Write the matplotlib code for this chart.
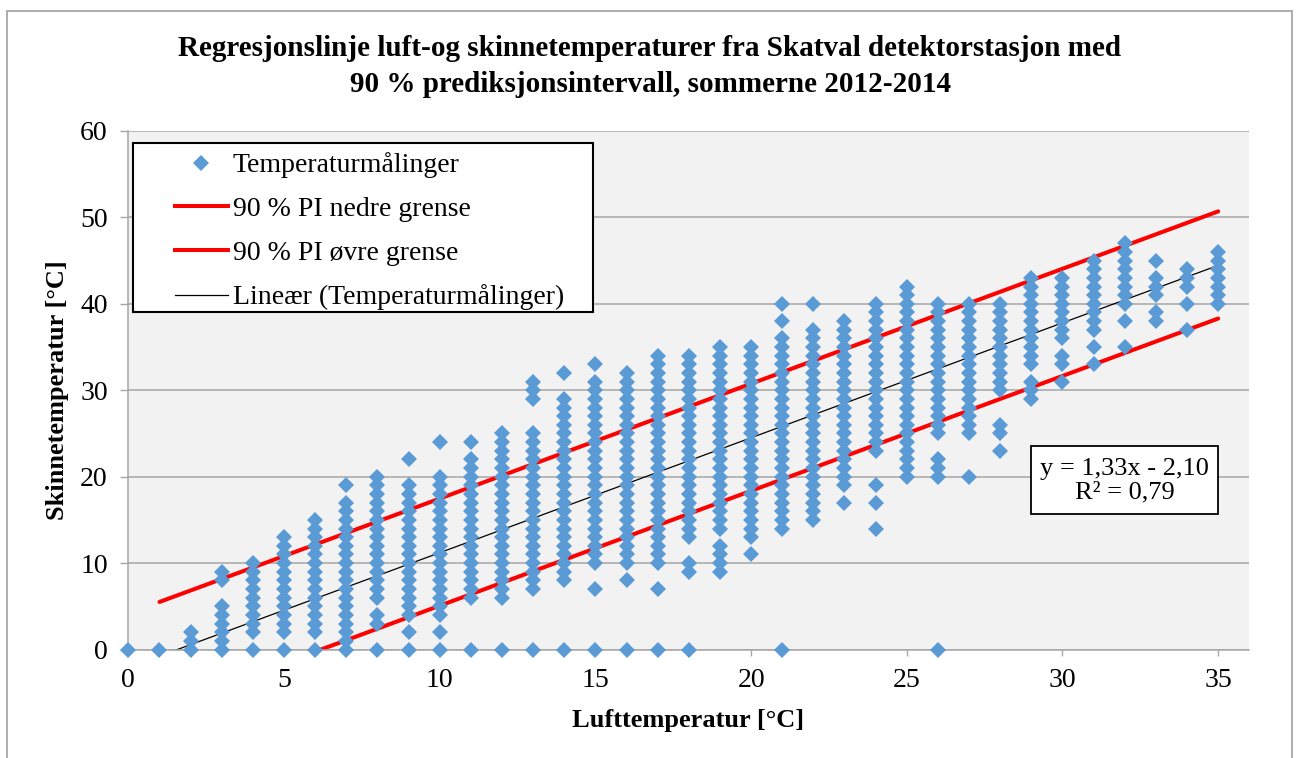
import matplotlib
matplotlib.use('Agg')
import matplotlib.pyplot as plt
from matplotlib.lines import Line2D
from matplotlib.patches import Rectangle

# Lufttemperatur (x) og skinnetemperaturer (y) lest av figuren,
# en streng per x-verdi: enkeltverdier og sammenhengende omraader "a-b"
lufttemp = list(range(0, 36))
skinnetemp_kolonner = [
    "0", "0", "0-2", "0-5 8 9", "0 2-10", "0 2-13", "0 2-15", "0 1-17 19",
    "0 3 4 6-20", "0 2 4-19 22", "0 2 4-20 24", "0 6-22 24", "0 6-25",
    "0 7-25 29-31", "0 8-29 32", "0 7 10-31 33", "0 8 10-32", "0 7 10-34",
    "0 9-10 13-34", "9-12 14-35", "11 13-35", "0 14-36 38 40", "15-37 40",
    "17 19-38", "14 17 19 23-40", "20-42", "0 20-22 25-40", "20 25-40",
    "23 25 26 30-40", "29-31 33-43", "31 33 34 36-43", "33 35 37-45",
    "35 38 40-47", "38 39 41-43 45", "37 40 42-44", "40-46",
]

# regresjonslinje (fra likningen i figuren) og 90 % PI endepunkter
stigning = 1.33
konstant = -2.10
r2 = 0.79
pi_x = [1, 35]
pi_nedre = [-6.9, 38.3]
pi_ovre = [5.5, 50.7]


def les_kolonne(tekst):
    verdier = []
    for del_ in tekst.split():
        if '-' in del_:
            a, b = del_.split('-')
            verdier += list(range(int(a), int(b) + 1))
        else:
            verdier.append(int(del_))
    return verdier


xs, ys = [], []
for x, kol in zip(lufttemp, skinnetemp_kolonner):
    for y in les_kolonne(kol):
        xs.append(x)
        ys.append(y)

plt.rcParams['font.family'] = ['Liberation Serif', 'DejaVu Serif']

W, H = 1298, 758
fig = plt.figure(figsize=(W / 100, H / 100), dpi=100)
fig.patch.set_facecolor('white')

# ytre ramme rundt diagrammet
fig.patches.append(Rectangle((7 / W, -0.01), (1292 - 7) / W, 1 - 10.5 / H + 0.01,
                             transform=fig.transFigure, fill=False,
                             edgecolor='#A0A0A0', linewidth=1.2))

left, right, top, bottom = 128.3, 1249.3, 131, 649.5
ax = fig.add_axes([left / W, 1 - bottom / H, (right - left) / W, (bottom - top) / H])
ax.set_facecolor('#F2F2F2')

blue = '#5B9BD5'
trend_x = [0, 35]
trend_y = [stigning * v + konstant for v in trend_x]

ax.plot(pi_x, pi_nedre, color='#FF0000', lw=2.9, zorder=2, solid_capstyle='round')
ax.plot(pi_x, pi_ovre, color='#FF0000', lw=2.9, zorder=2, solid_capstyle='round')
ax.plot(trend_x, trend_y, color='black', lw=0.9, zorder=2)
ax.plot(xs, ys, linestyle='none', marker='D', ms=8.0, mew=0, color=blue,
        zorder=3, clip_on=False)

ax.set_xlim(0, 36)
ax.set_ylim(0, 60)
ax.set_xticks(range(0, 36, 5))
ax.set_yticks(range(0, 61, 10))
ax.grid(axis='y', color='#A6A6A6', lw=1.1, zorder=0)
ax.set_axisbelow(True)
for s in ['top', 'right']:
    ax.spines[s].set_visible(False)
for s in ['left', 'bottom']:
    ax.spines[s].set_color('#A6A6A6')
    ax.spines[s].set_linewidth(1.1)
ax.tick_params(axis='x', length=4.5, width=1, color='#A6A6A6', pad=9, labelsize=20)
ax.tick_params(axis='y', length=5.8, width=1, color='#A6A6A6', pad=9, labelsize=20)

fig.text(650 / W, 1 - 49 / H,
         'Regresjonslinje luft-og skinnetemperaturer fra Skatval detektorstasjon med',
         ha='center', va='center', fontsize=21, fontweight='bold')
fig.text(650 / W, 1 - 84 / H, '90 % prediksjonsintervall, sommerne 2012-2014',
         ha='center', va='center', fontsize=21, fontweight='bold')
fig.text(688 / W, 1 - 720 / H, 'Lufttemperatur [°C]', ha='center', va='center',
         fontsize=19, fontweight='bold')
fig.text(58 / W, 1 - 390 / H, 'Skinnetemperatur [°C]', ha='center', va='center',
         fontsize=19, fontweight='bold', rotation=90)

# legende med egen ramme
fig.patches.append(Rectangle((133 / W, 1 - 312 / H), (593 - 133) / W, (312 - 143) / H,
                             transform=fig.transFigure, facecolor='white',
                             edgecolor='black', linewidth=1.5, zorder=5))
handles = [
    Line2D([], [], linestyle='none', marker='D', ms=8.0, mew=0, color=blue),
    Line2D([], [], color='#FF0000', lw=2.9),
    Line2D([], [], color='#FF0000', lw=2.9),
    Line2D([], [], color='black', lw=0.9),
]
labels = ['Temperaturmålinger', '90 % PI nedre grense', '90 % PI øvre grense',
          'Lineær (Temperaturmålinger)']
leg = fig.legend(handles, labels, loc='upper left',
                 bbox_to_anchor=(175 / W, 1 - 152.5 / H), frameon=False,
                 fontsize=20, handlelength=1.9, handletextpad=0.18,
                 labelspacing=0.66, borderpad=0, borderaxespad=0, numpoints=1)
leg.set_zorder(6)

# likningsboks
fig.patches.append(Rectangle((1031 / W, 1 - 514 / H), (1218 - 1031) / W, (514 - 446) / H,
                             transform=fig.transFigure, facecolor='white',
                             edgecolor='black', linewidth=1.3, zorder=5))
fig.text(1124.5 / W, 1 - 481 / H,
         'y = {:.2f}x - {:.2f}\nR² = {:.2f}'.format(stigning, -konstant, r2).replace('.', ','),
         ha='center', va='center', fontsize=19, linespacing=1.1, zorder=6)

fig.savefig('out.png', dpi=100)
